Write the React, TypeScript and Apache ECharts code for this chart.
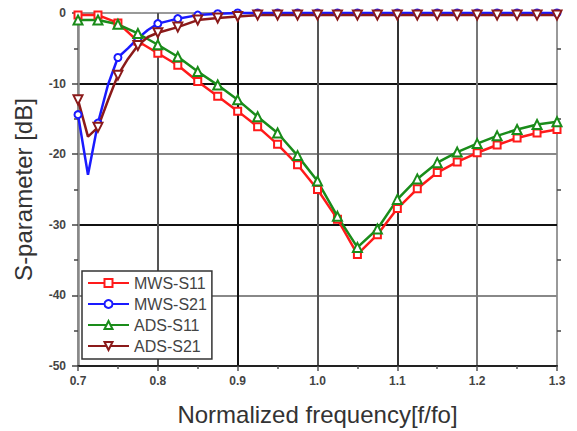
import React, { useEffect, useRef } from "react";
import * as echarts from "echarts";

const FREQ_S11 = [0.7, 0.725, 0.75, 0.775, 0.8, 0.825, 0.85, 0.875, 0.9, 0.925, 0.95, 0.975, 1.0, 1.025, 1.05, 1.075, 1.1, 1.125, 1.15, 1.175, 1.2, 1.225, 1.25, 1.275, 1.3];
const MWS_S11 = [-0.3, -0.3, -1.4, -4.0, -5.7, -7.4, -9.7, -11.8, -13.9, -16.1, -18.6, -21.5, -25.0, -29.2, -34.2, -31.4, -27.7, -24.9, -22.6, -21.1, -19.8, -18.7, -17.7, -17.0, -16.5];
const ADS_S11 = [-1.0, -1.0, -1.6, -2.9, -4.5, -6.2, -8.3, -10.2, -12.3, -14.7, -17.0, -20.2, -23.8, -28.8, -33.2, -30.6, -26.4, -23.5, -21.2, -19.7, -18.5, -17.4, -16.5, -15.8, -15.4];

const FREQ_S21 = [0.7, 0.7125, 0.725, 0.7375, 0.75, 0.7625, 0.775, 0.7875, 0.8, 0.825, 0.85, 0.875, 0.9, 0.925, 0.95, 0.975, 1.0, 1.025, 1.05, 1.075, 1.1, 1.125, 1.15, 1.175, 1.2, 1.225, 1.25, 1.275, 1.3];
const MWS_S21 = [-14.4, -22.9, -15.6, -10.2, -6.3, -5.0, -3.6, -2.4, -1.5, -0.8, -0.3, -0.1, 0, 0, 0, 0, 0, 0, 0, 0, 0, 0, 0, 0, 0, 0, 0, 0, 0];
const ADS_S21 = [-12.3, -17.5, -16.2, -12.4, -8.8, -6.5, -4.6, -3.4, -2.8, -2.0, -1.0, -0.7, -0.5, -0.3, -0.3, -0.3, -0.3, -0.3, -0.3, -0.3, -0.3, -0.3, -0.3, -0.3, -0.3, -0.3, -0.3, -0.3, -0.3];

const X_TICKS = ["0.7", "0.8", "0.9", "1.0", "1.1", "1.2", "1.3"];
const Y_TICKS = ["-50", "-40", "-30", "-20", "-10", "0"];

const FONT = "Liberation Sans, Arial, sans-serif";

function isMarker(f: number) {
  return Math.abs(f * 40 - Math.round(f * 40)) < 1e-6;
}

function build(freq: number[], vals: number[]) {
  return freq.map((f, i) =>
    isMarker(f) ? { value: [f, vals[i]] } : { value: [f, vals[i]], symbol: "none" }
  );
}

function mkSeries(name: string, color: string, symbol: string, size: number, data: any[], rotate = 0) {
  return {
    name,
    type: "line",
    data,
    symbol,
    symbolSize: size,
    symbolRotate: rotate,
    showAllSymbol: true,
    color,
    lineStyle: { color, width: 2.5 },
    itemStyle: { color, borderColor: color, borderWidth: 1.5 },
    clip: false,
  };
}

export default function App() {
  const ref = useRef<HTMLDivElement>(null);
  useEffect(() => {
    const chart = echarts.init(ref.current!, null, { renderer: "svg" });
    const option: any = {
      animation: false,
      backgroundColor: "#fff",
      textStyle: { fontFamily: FONT },
      grid: {
        left: 78,
        right: 20,
        top: 13,
        bottom: 64,
        show: true,
        borderColor: "#999",
        borderWidth: 2,
      },
      legend: {
        orient: "vertical",
        left: 82,
        top: 271,
        padding: [4, 5, 5, 5],
        itemGap: 5,
        itemWidth: 41,
        itemHeight: 10,
        backgroundColor: "#fff",
        borderColor: "#333",
        borderWidth: 1.5,
        textStyle: { fontFamily: FONT, fontSize: 16, lineHeight: 16, color: "#444" },
        data: ["MWS-S11", "MWS-S21", "ADS-S11", "ADS-S21"],
      },
      xAxis: {
        type: "value",
        min: 0.7,
        max: 1.3,
        interval: 0.1,
        name: "Normalized frequency[f/fo]",
        nameLocation: "middle",
        nameGap: 36,
        nameTextStyle: { fontFamily: FONT, fontSize: 24, color: "#333" },
        axisLine: { show: true, onZero: false, lineStyle: { color: "#222", width: 2 } },
        axisTick: { show: true, length: 5, lineStyle: { color: "#555", width: 1.5 } },
        minorTick: { show: true, splitNumber: 2, length: 3, lineStyle: { color: "#555", width: 1.5 } },
        axisLabel: {
          margin: 9,
          fontSize: 12,
          fontWeight: "bold",
          color: "#444",
          fontFamily: FONT,
          formatter: (v: number) => X_TICKS[Math.round((v - 0.7) * 10)] ?? v.toFixed(1),
        },
        splitLine: {
          show: true,
          showMinLine: false,
          showMaxLine: false,
          lineStyle: { color: ["#555", "#111", "#555", "#333", "#777"], width: 2 },
        },
      },
      yAxis: [
        {
          type: "value",
          min: -50,
          max: 0,
          interval: 10,
          name: "S-parameter [dB]",
          nameLocation: "middle",
          nameGap: 43,
          nameTextStyle: { fontFamily: FONT, fontSize: 24, color: "#333" },
          axisLine: { show: true, onZero: false, lineStyle: { color: "#888", width: 2.5 } },
          axisTick: { show: true, length: 6, lineStyle: { color: "#444", width: 1.5 } },
          minorTick: { show: true, splitNumber: 2, length: 4, lineStyle: { color: "#444", width: 1.5 } },
          axisLabel: {
            margin: 12,
            fontSize: 12,
            fontWeight: "bold",
            color: "#444",
            fontFamily: FONT,
            formatter: (v: number) => Y_TICKS[Math.round((v + 50) / 10)] ?? String(v),
          },
          splitLine: {
            show: true,
            showMinLine: false,
            showMaxLine: false,
            lineStyle: { color: ["#888", "#111", "#888", "#111"], width: 2 },
          },
        },
        {
          type: "value",
          position: "right",
          min: -50,
          max: 0,
          interval: 10,
          axisLine: { show: false },
          axisLabel: { show: false },
          axisTick: { show: false },
          splitLine: { show: false },
          minorTick: { show: true, splitNumber: 2, length: 4, lineStyle: { color: "#444", width: 1.5 } },
        },
      ],
      series: [
        mkSeries("MWS-S11", "#ff1a1a", "emptyRect", 7, build(FREQ_S11, MWS_S11)),
        mkSeries("MWS-S21", "#1a1aff", "emptyCircle", 7, build(FREQ_S21, MWS_S21)),
        mkSeries("ADS-S11", "#1a8c1a", "emptyTriangle", 9, build(FREQ_S11, ADS_S11)),
        mkSeries("ADS-S21", "#8b1a1a", "emptyTriangle", 9, build(FREQ_S21, ADS_S21), 180),
      ],
    };
    option.yAxis[1].minorTick = { show: true, splitNumber: 2, length: 4, inside: true, lineStyle: { color: "#444", width: 1.5 } };
    option.yAxis[1].axisTick = { show: false };
    chart.setOption(option);
    return () => chart.dispose();
  }, []);
  return (
    <div
      ref={ref}
      style={{ width: 577, height: 431, position: "absolute", left: 0, top: 0 }}
    />
  );
}
